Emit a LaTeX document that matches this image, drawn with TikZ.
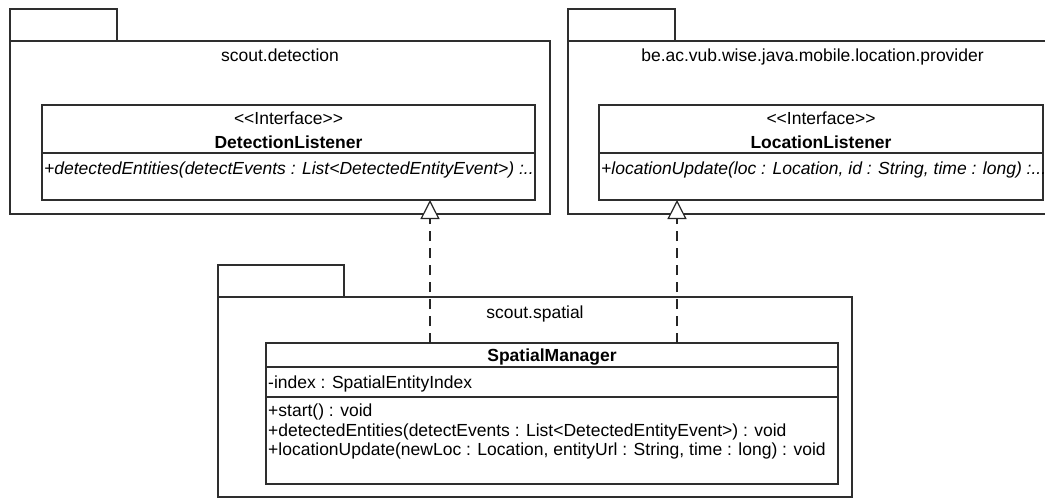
\documentclass[tikz,border=0pt]{standalone}
\usepackage{fontspec}
\setmainfont{Liberation Sans}[Ligatures=TeXOff]
\usetikzlibrary{arrows.meta}
\begin{document}
\begin{tikzpicture}[x=1pt,y=-1pt,
  frame/.style={draw=black!82, line width=1.4pt, fill=white, inner sep=0pt, outer sep=0pt, anchor=north west},
  rule/.style={draw=black!82, line width=1.4pt},
  txt/.style={inner sep=0pt, font=\fontsize{17.5}{20}\selectfont},
  ctxt/.style={txt, anchor=base},
  ltxt/.style={txt, anchor=base west},
  bold/.style={font=\fontsize{17.5}{20}\selectfont\bfseries},
  ital/.style={font=\fontsize{17.5}{20}\selectfont\itshape},
  realize/.style={draw=black!85, line width=1.2pt, dash pattern=on 10pt off 7pt,
    -{Triangle[length=19pt, width=19pt, fill=white, line width=1.2pt, sep=0pt]}}]
\clip (0,0) rectangle (1045,501);
\fill[white] (0,0) rectangle (1045,501);

% package scout.detection
\node[frame, minimum width=107pt, minimum height=32pt] (p1tab) at (10,9) {};
\node[frame, minimum width=540pt, minimum height=173pt] (p1) at (10,41) {};
\node[ctxt] (p1name) at (280,61) {scout.detection};

% package be.ac.vub.wise.java.mobile.location.provider
\node[frame, minimum width=107pt, minimum height=32pt] (p2tab) at (568,9) {};
\node[frame, minimum width=489pt, minimum height=173pt] (p2) at (568,41) {};
\node[ctxt] (p2name) at (812.5,61) {be.ac.vub.wise.java.mobile.location.provider};

% package scout.spatial
\node[frame, minimum width=126pt, minimum height=32pt] (p3tab) at (218,265) {};
\node[frame, minimum width=634pt, minimum height=200pt] (p3) at (218,297) {};
\node[ctxt] (p3name) at (535,318) {scout.spatial};

% interface DetectionListener
\node[frame, minimum width=493pt, minimum height=95pt] (c1) at (42,105) {};
\draw[rule] (42,153) -- (535,153);
\node[ctxt] (c1st) at (288.5,124) {<<Interface>>};
\node[ctxt, bold] (c1name) at (288.5,148) {DetectionListener};
\node[ltxt, ital] (c1op) at (44,174.5) {+detectedEntities(detectEvents : List<DetectedEntityEvent>) :..};

% interface LocationListener
\node[frame, minimum width=444pt, minimum height=95pt] (c2) at (599,105) {};
\draw[rule] (599,153) -- (1043,153);
\node[ctxt] (c2st) at (821,124) {<<Interface>>};
\node[ctxt, bold] (c2name) at (821,148) {LocationListener};
\node[ltxt, ital] (c2op) at (601,174.5) {+locationUpdate(loc : Location, id : String, time : long) :...};

% class SpatialManager
\node[frame, minimum width=572pt, minimum height=141pt] (c3) at (266,343) {};
\draw[rule] (266,367) -- (838,367);
\draw[rule] (266,397) -- (838,397);
\node[ctxt, bold] (c3name) at (552,361) {SpatialManager};
\node[ltxt] (c3a1) at (268,388) {-index : SpatialEntityIndex};
\node[ltxt] (c3o1) at (268,416.5) {+start() : void};
\node[ltxt] (c3o2) at (268,436) {+detectedEntities(detectEvents : List<DetectedEntityEvent>) : void};
\node[ltxt] (c3o3) at (268,455.5) {+locationUpdate(newLoc : Location, entityUrl : String, time : long) : void};

% realizations
\coordinate (r1) at (430,0);
\coordinate (r2) at (677,0);
\draw[realize] (c3.north -| r1) -- (c1.south -| r1);
\draw[realize] (c3.north -| r2) -- (c2.south -| r2);
\end{tikzpicture}
\end{document}
